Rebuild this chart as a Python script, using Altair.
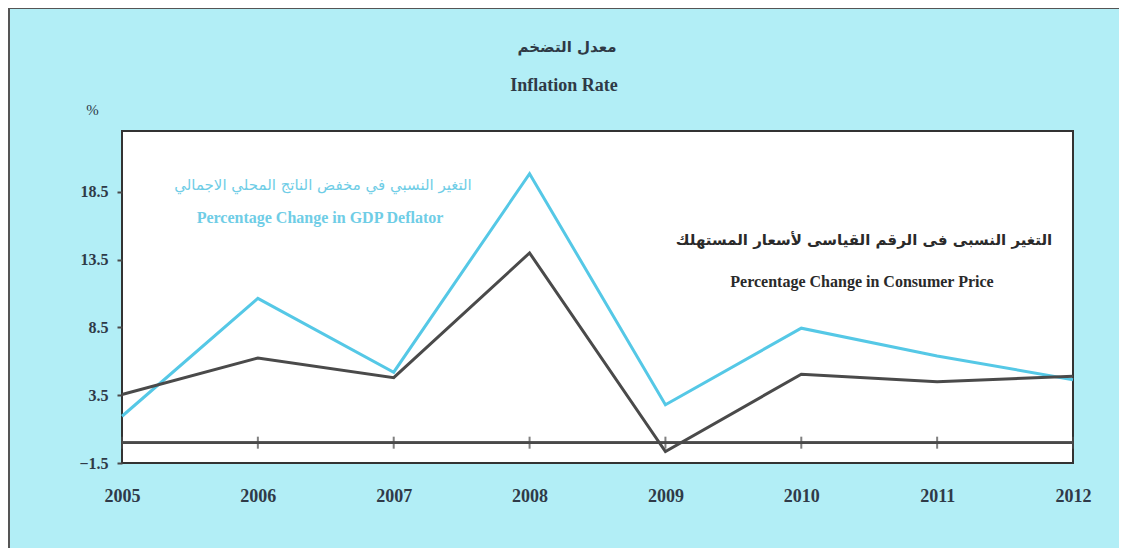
import altair as alt
import pandas as pd

years = [2005, 2006, 2007, 2008, 2009, 2010, 2011, 2012]
gdp_deflator = [1.95, 10.65, 5.2, 19.85, 2.8, 8.45, 6.4, 4.65]
consumer_price = [3.55, 6.25, 4.8, 14.0, -0.65, 5.05, 4.5, 4.9]
y_ticks = [-1.5, 3.5, 8.5, 13.5, 18.5]

title_ar = "معدل التضخم"
title_en = "Inflation Rate"
gdp_ar = "التغير النسبي في مخفض الناتج المحلي الاجمالي"
gdp_en = "Percentage Change in GDP Deflator"
cpi_ar = "التغير النسبى فى الرقم القياسى لأسعار المستهلك"
cpi_en = "Percentage Change in Consumer Price"

CYAN = "#55c8e6"
DARK = "#4a4a4a"
LABEL = "#2f3a48"
BG = "#b2eef6"
SERIF = "Liberation Serif"
AR = "DejaVu Sans"

W, H = 951, 332

df = pd.DataFrame({
    "year": years * 2,
    "value": gdp_deflator + consumer_price,
    "series": ["GDP Deflator"] * len(years) + ["Consumer Price"] * len(years),
})
zero_df = pd.DataFrame({"year": years, "zero": [0] * len(years)})

xscale = alt.Scale(domain=[2005, 2012], nice=False, zero=False)
yscale = alt.Scale(domain=[-1.5, 23], nice=False, zero=False)

lines = alt.Chart(df).mark_line(strokeWidth=3).encode(
    x=alt.X("year:Q", scale=xscale,
            axis=alt.Axis(values=years, format="d", title=None, ticks=False,
                          domain=False, grid=False, labelFont=SERIF,
                          labelFontWeight="bold", labelFontSize=18,
                          labelColor=LABEL, labelPadding=24,
                          labelFlush=False, labelOverlap=False)),
    y=alt.Y("value:Q", scale=yscale,
            axis=alt.Axis(values=y_ticks, format=".1f", title="%", titleAngle=0,
                          titleX=-30, titleY=-22, titleAlign="center",
                          titleBaseline="middle", titleFont=SERIF,
                          titleFontSize=15, titleFontWeight="normal",
                          titleColor=LABEL, grid=False, domain=False,
                          tickSize=5, tickWidth=2, tickColor=DARK,
                          labelFont=SERIF, labelFontWeight="bold",
                          labelFontSize=16, labelColor=LABEL, labelPadding=9,
                          labelFlush=False, labelOverlap=False)),
    color=alt.Color("series:N",
                    scale=alt.Scale(domain=["GDP Deflator", "Consumer Price"],
                                    range=[CYAN, DARK]),
                    legend=None),
    order=alt.Order("year:Q"),
)

zero_rule = alt.Chart(zero_df).mark_rule(color=DARK, strokeWidth=2).encode(
    y=alt.Y("zero:Q", scale=yscale)
)
zero_ticks = alt.Chart(zero_df).mark_tick(orient="vertical", size=12,
                                          thickness=2, color=DARK).encode(
    x=alt.X("year:Q", scale=xscale),
    y=alt.Y("zero:Q", scale=yscale),
)


def label(txt, x, y, font, size, color, weight="bold"):
    return alt.Chart(pd.DataFrame({"t": [txt]})).mark_text(
        font=font, fontSize=size, fontWeight=weight, color=color,
        align="center", baseline="middle",
    ).encode(text="t:N", x=alt.value(x), y=alt.value(y))


texts = [
    label(title_ar, 445, -84, AR, 15, "#2f3a46"),
    label(title_en, 442, -45, SERIF, 18, "#2f3a46"),
    label(gdp_ar, 201, 54, AR, 15, "#6fcde6", "normal"),
    label(gdp_en, 198, 87, SERIF, 16, "#6fcde6"),
    label(cpi_ar, 742, 109, AR, 15, "#2a2a2a"),
    label(cpi_en, 740, 151, SERIF, 16, "#2a2a2a"),
]

frame_df = pd.DataFrame({"k": [0]})
frame_top = alt.Chart(frame_df).mark_rule(color="#555555", strokeWidth=2).encode(
    x=alt.value(-114), x2=alt.value(W + 46), y=alt.value(-123)
)
frame_left = alt.Chart(frame_df).mark_rule(color="#555555", strokeWidth=2).encode(
    x=alt.value(-113), y=alt.value(-123), y2=alt.value(H + 85)
)

chart = alt.layer(zero_rule, zero_ticks, lines, *texts, frame_top, frame_left).properties(
    width=W, height=H,
    autosize=alt.AutoSizeParams(type="none"),
    padding={"left": 114, "top": 123, "right": 46, "bottom": 85},
    background=BG,
).configure_view(
    stroke="#333333", strokeWidth=2, fill="white"
)

chart.save("out.html", embed_options={"renderer": "svg", "actions": False})
